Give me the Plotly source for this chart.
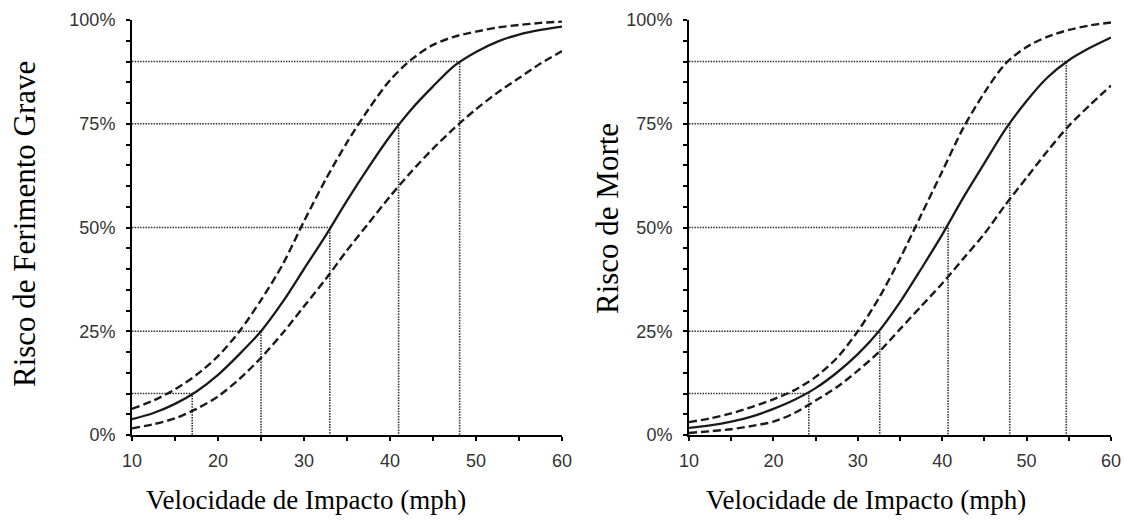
import plotly.graph_objects as go

# ---- data ----
speed = [10, 12.5, 15, 17.5, 20, 22.5, 25, 27.5, 30, 32.5, 35, 37.5, 40,
         42.5, 45, 47.5, 50, 52.5, 55, 57.5, 60]

# Left panel: Risco de Ferimento Grave
injury_mid = [0.038, 0.053, 0.075, 0.105, 0.145, 0.195, 0.25, 0.32, 0.40, 0.48, 0.565,
              0.645, 0.72, 0.785, 0.84, 0.89, 0.923, 0.948, 0.965, 0.976, 0.984]
injury_upper = [0.063, 0.083, 0.11, 0.145, 0.19, 0.25, 0.325, 0.41, 0.515, 0.615, 0.705,
                0.785, 0.855, 0.905, 0.94, 0.96, 0.972, 0.982, 0.988, 0.993, 0.996]
injury_lower = [0.016, 0.026, 0.04, 0.063, 0.093, 0.135, 0.186, 0.245, 0.31, 0.375, 0.445,
                0.51, 0.575, 0.635, 0.69, 0.74, 0.785, 0.825, 0.86, 0.895, 0.925]
injury_ref_speed = [17.0, 25.0, 33.0, 41.0, 48.1]
injury_ref_prob = [0.10, 0.25, 0.50, 0.75, 0.90]

# Right panel: Risco de Morte
death_mid = [0.017, 0.023, 0.032, 0.045, 0.063, 0.085, 0.113, 0.15, 0.195, 0.25, 0.32,
             0.40, 0.483, 0.572, 0.655, 0.737, 0.805, 0.862, 0.903, 0.933, 0.958]
death_upper = [0.031, 0.04, 0.052, 0.068, 0.086, 0.108, 0.14, 0.185, 0.25, 0.33, 0.425,
               0.53, 0.635, 0.74, 0.825, 0.895, 0.935, 0.96, 0.976, 0.987, 0.994]
death_lower = [0.005, 0.009, 0.014, 0.022, 0.032, 0.053, 0.083, 0.115, 0.155, 0.20, 0.255,
               0.31, 0.365, 0.425, 0.485, 0.555, 0.62, 0.685, 0.745, 0.795, 0.842]
death_ref_speed = [24.2, 32.6, 40.7, 48.0, 54.7]
death_ref_prob = [0.10, 0.25, 0.50, 0.75, 0.90]

x_title = "Velocidade de Impacto (mph)"
y_titles = ["Risco de Ferimento Grave", "Risco de Morte"]

# ---- figure ----
fig = go.Figure()

panels = [
    ("x", "y", injury_mid, injury_upper, injury_lower, injury_ref_speed, injury_ref_prob),
    ("x2", "y2", death_mid, death_upper, death_lower, death_ref_speed, death_ref_prob),
]

for xa, ya, mid, up, lo, rs, rp in panels:
    # dotted reference lines
    for s, p in zip(rs, rp):
        fig.add_trace(go.Scatter(
            x=[speed[0], s, s], y=[p, p, 0], mode="lines", xaxis=xa, yaxis=ya,
            line=dict(color="#333333", width=1.6, dash="1.5px,1.2px"),
            showlegend=False, hoverinfo="skip"))
    for vals, dash, w in [(up, "8px,4px", 2.4), (lo, "8px,4px", 2.4), (mid, "solid", 2.3)]:
        fig.add_trace(go.Scatter(
            x=speed, y=vals, mode="lines", xaxis=xa, yaxis=ya,
            line=dict(color="#1a1a1a", width=w, dash=dash, shape="spline", smoothing=0.8),
            showlegend=False))

tick_font = dict(family="Liberation Sans, Arial", size=18, color="#333333")

xcommon = dict(range=[10, 60], dtick=10, tick0=10, showgrid=False, zeroline=False,
               showline=True, linewidth=2, linecolor="black",
               ticks="outside", ticklen=4, tickwidth=1.5, tickcolor="black",
               minor=dict(dtick=5, tick0=10, ticks="outside", ticklen=4, tickwidth=1.5,
                          tickcolor="black"),
               tickfont=tick_font, ticklabelstandoff=4, fixedrange=True, automargin=False)
ycommon = dict(range=[0, 1], dtick=0.25, tick0=0, tickformat=".0%", showgrid=False,
               zeroline=False, showline=True, linewidth=2, linecolor="black",
               ticks="outside", ticklen=4, tickwidth=1.5, tickcolor="black",
               minor=dict(dtick=0.05, tick0=0, ticks="outside", ticklen=4, tickwidth=1.5,
                          tickcolor="black"),
               tickfont=tick_font, ticklabelstandoff=7, fixedrange=True, automargin=False)

ydom = [1 - 435 / 522, 1 - 20 / 522]
fig.update_layout(
    width=1124, height=522,
    margin=dict(l=0, r=0, t=0, b=0, autoexpand=False),
    paper_bgcolor="white", plot_bgcolor="white",
    xaxis=dict(domain=[132 / 1124, 562 / 1124], anchor="y", **xcommon),
    yaxis=dict(domain=ydom, anchor="x", **ycommon),
    xaxis2=dict(domain=[689 / 1124, 1111 / 1124], anchor="y2", **xcommon),
    yaxis2=dict(domain=ydom, anchor="x2", **ycommon),
)

title_font = dict(family="Liberation Serif, Times New Roman, serif", size=27, color="black")
ytitle_font = dict(family="Liberation Serif, Times New Roman, serif", size=31, color="black")

for cx in [306, 866]:
    fig.add_annotation(text=x_title, x=cx / 1124, y=1 - 500 / 522, xref="paper", yref="paper",
                       xanchor="center", yanchor="middle", showarrow=False, font=title_font)
for cx, cy, t in [(24, 224, y_titles[0]), (607, 219, y_titles[1])]:
    fig.add_annotation(text=t, x=cx / 1124, y=1 - cy / 522, xref="paper", yref="paper",
                       xanchor="center", yanchor="middle", showarrow=False, textangle=-90,
                       font=ytitle_font)

fig.write_html("out.html")
